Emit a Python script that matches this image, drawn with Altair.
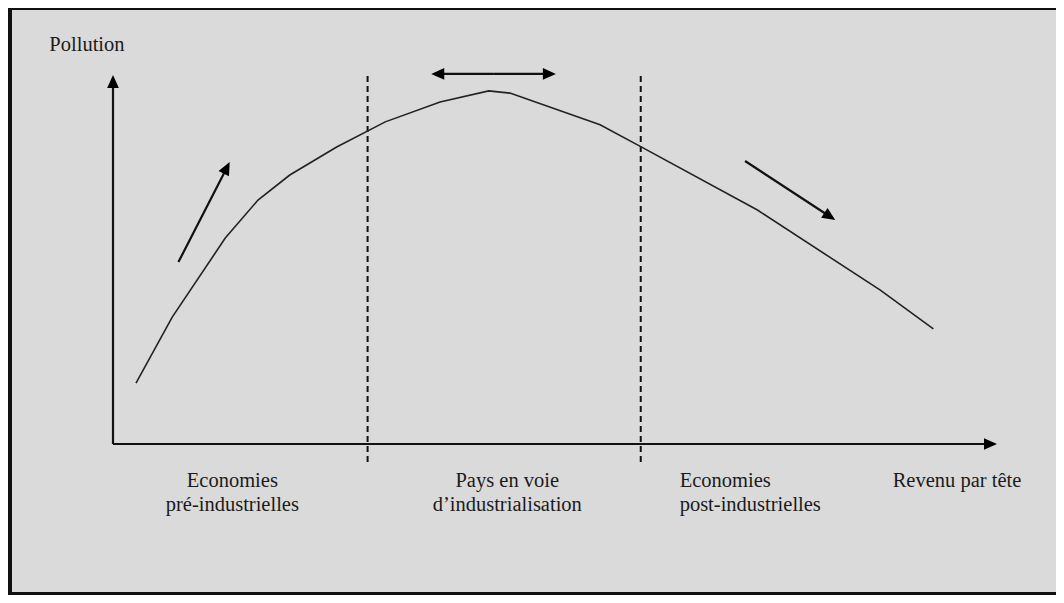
import math
import altair as alt
import pandas as pd

# ---- data (income units / pollution units, axis tips at 100) ----
curve_x = [2.6, 6.7, 12.7, 16.4, 20.0, 25.3, 30.8, 37.0, 42.5, 44.9, 55.1, 59.7, 72.9, 86.8, 92.8]
curve_y = [16.5, 34.4, 55.8, 66.1, 72.9, 80.5, 87.3, 92.7, 95.7, 95.1, 86.5, 80.6, 63.4, 41.7, 31.2]

divider_x = [28.8, 59.7]
divider_y0 = [-4.9, -4.9]
divider_y1 = [100.5, 100.5]

# arrows: axes, rising arrow, falling arrow, double arrow (two halves)
arrow_id = ["yaxis", "xaxis", "up", "down", "left", "right"]
arrow_x0 = [0.0, 0.0, 7.4, 71.5, 43.0, 43.0]
arrow_y0 = [0.0, 0.0, 49.3, 76.7, 100.3, 100.3]
arrow_x1 = [0.0, 100.0, 13.2, 81.7, 36.0, 50.1]
arrow_y1 = [100.0, 0.0, 76.4, 60.7, 100.3, 100.3]

label_text = ["Pollution", "Economies", "pré-industrielles", "Pays en voie",
              "d\u2019industrialisation", "Economies", "post-industrielles", "Revenu par tête"]
label_x = [-7.2, 13.5, 13.5, 44.6, 44.6, 64.1, 64.1, 88.2]
label_y = [106.6, -11.7, -18.2, -11.7, -18.2, -11.7, -18.2, -11.7]
label_align = ["left", "center", "center", "center", "center", "left", "left", "left"]

# ---- layout ----
W, H = 1048, 587
OX, OY = 105, 436          # axis origin inside the chart (px)
PX, PY = 8.84, 3.69        # px per unit
xdom = [-OX / PX, (W - OX) / PX]
ydom = [-(H - OY) / PY, OY / PY]
HEAD = 13

xs = alt.Scale(domain=xdom, nice=False, zero=False)
ys = alt.Scale(domain=ydom, nice=False, zero=False)

rows = []
for i, x0, y0, x1, y1 in zip(arrow_id, arrow_x0, arrow_y0, arrow_x1, arrow_y1):
    dxp = (x1 - x0) * PX
    dyp = -(y1 - y0) * PY
    ln = math.hypot(dxp, dyp)
    ux, uy = dxp / ln, dyp / ln
    ang = math.degrees(math.atan2(ux, -uy)) % 360
    rows.append(dict(id=i, x=x0, y=y0, xe=x1 - 6 * ux / PX, ye=y1 + 6 * uy / PY,
                     tx=x1, ty=y1, angle=ang))
arrows = pd.DataFrame(rows)

curve = pd.DataFrame({"x": curve_x, "y": curve_y, "o": range(len(curve_x))})
dividers = pd.DataFrame({"x": divider_x, "y": divider_y0, "y2": divider_y1})
labels = pd.DataFrame({"t": label_text, "x": label_x, "y": label_y, "a": label_align})

curve_layer = alt.Chart(curve).mark_line(color="#222222", strokeWidth=1.6).encode(
    x=alt.X("x:Q", scale=xs, axis=None),
    y=alt.Y("y:Q", scale=ys, axis=None),
    order="o:Q",
)

div_layer = alt.Chart(dividers).mark_rule(color="#111111", strokeWidth=2, strokeDash=[6, 4]).encode(
    x=alt.X("x:Q", scale=xs, axis=None),
    y=alt.Y("y:Q", scale=ys, axis=None),
    y2="y2:Q",
)

shaft_layer = alt.Chart(arrows).mark_rule(color="#111111", strokeWidth=2.2).encode(
    x=alt.X("x:Q", scale=xs, axis=None),
    y=alt.Y("y:Q", scale=ys, axis=None),
    x2="xe:Q",
    y2="ye:Q",
)

head_layer = alt.Chart(arrows).mark_point(
    shape="M0,0L-0.9,2L0.9,2Z", size=HEAD * HEAD, filled=True, color="#000000",
    opacity=1, strokeWidth=0,
).encode(
    x=alt.X("tx:Q", scale=xs, axis=None),
    y=alt.Y("ty:Q", scale=ys, axis=None),
    angle=alt.Angle("angle:Q", scale=None),
)

text_common = dict(font="Liberation Serif", fontSize=20.5, color="#1a1a1a", baseline="alphabetic")
text_center = alt.Chart(labels).transform_filter(alt.datum.a == "center").mark_text(
    align="center", **text_common).encode(
    x=alt.X("x:Q", scale=xs, axis=None), y=alt.Y("y:Q", scale=ys, axis=None), text="t:N")
text_left = alt.Chart(labels).transform_filter(alt.datum.a == "left").mark_text(
    align="left", **text_common).encode(
    x=alt.X("x:Q", scale=xs, axis=None), y=alt.Y("y:Q", scale=ys, axis=None), text="t:N")

border_left = alt.Chart(curve).mark_rule(color="#111111", strokeWidth=2.5).encode(
    x=alt.value(2), y=alt.value(0), y2=alt.value(H))
border_top = alt.Chart(curve).mark_rule(color="#111111", strokeWidth=2.5).encode(
    x=alt.value(0), x2=alt.value(W), y=alt.value(0.8))
border_bottom = alt.Chart(curve).mark_rule(color="#111111", strokeWidth=2.5).encode(
    x=alt.value(0), x2=alt.value(W), y=alt.value(H - 1.5))

chart = alt.layer(
    div_layer, curve_layer, shaft_layer, head_layer, text_center, text_left,
    border_left, border_top, border_bottom,
).properties(
    width=W, height=H, padding=0, autosize=alt.AutoSizeParams(type="none"),
    background="#dadada",
).configure_view(stroke=None, fill="#dadada")

chart.save("out.html", embed_options={"renderer": "svg", "actions": False})
